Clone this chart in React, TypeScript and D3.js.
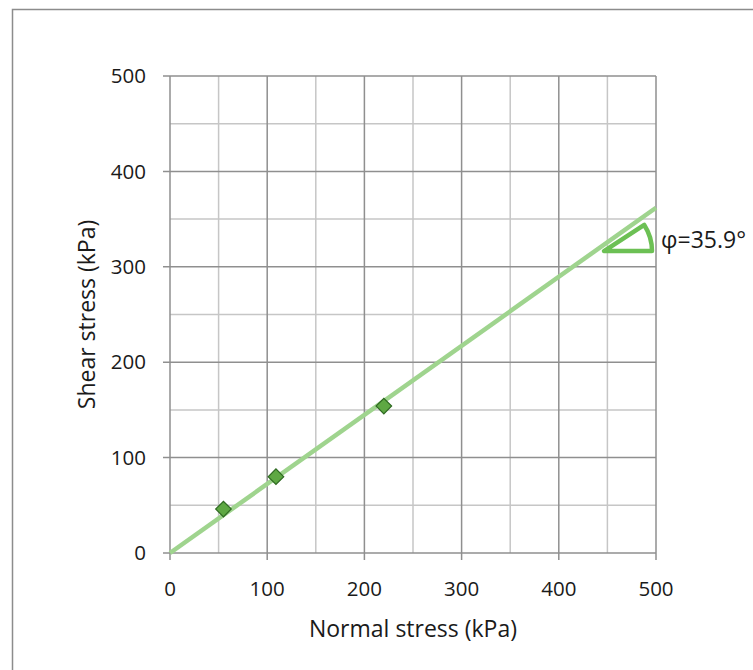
import React from 'react'
import * as d3 from 'd3'

const normalStress = [55, 109, 220]
const shearStress = [46, 80, 154]
const frictionAngle = 35.9
const xTicks = [0, 100, 200, 300, 400, 500]
const yTicks = [0, 100, 200, 300, 400, 500]
const minorTicks = [50, 150, 250, 350, 450]

const width = 753
const height = 670
const left = 170
const right = 656
const top = 76
const bottom = 553

const App = () => {
    const x = d3.scaleLinear().domain([0, 500]).range([left, right])
    const y = d3.scaleLinear().domain([0, 500]).range([bottom, top])
    const slope = Math.tan((frictionAngle * Math.PI) / 180)
    const fit = d3.line<number>()
        .x(d => x(d))
        .y(d => y(d * slope))

    // angle marker near the end of the line
    const vx = x(446.5)
    const vy = y(316.5)
    const r = 48
    const a = (33 * Math.PI) / 180
    const marker = `M${vx},${vy} L${vx + r},${vy} A${r},${r} 0 0 0 ${vx + r * Math.cos(a)},${vy - r * Math.sin(a)} Z`

    const font = "'Open Sans', 'Segoe UI', sans-serif"

    return (
        <div style={{ position: 'absolute', left: 0, top: 0 }}>
            <svg width={width} height={height} style={{ display: 'block', fontFamily: font }}>
                <rect x={12.5} y={9.5} width={800} height={700} fill="#fff" stroke="#8c8c8c" strokeWidth={1.5} />
                {minorTicks.map(t => (
                    <g key={'m' + t}>
                        <line x1={x(t)} x2={x(t)} y1={top} y2={bottom} stroke="#c6c6c6" strokeWidth={1.5} />
                        <line x1={left} x2={right} y1={y(t)} y2={y(t)} stroke="#c6c6c6" strokeWidth={1.5} />
                    </g>
                ))}
                {xTicks.map(t => (
                    <g key={'x' + t}>
                        <line x1={x(t)} x2={x(t)} y1={top} y2={bottom + 7} stroke="#8f8f8f" strokeWidth={1.5} />
                        <text x={x(t)} y={589} dy="0.35em" textAnchor="middle" fontSize={20.5} fill="#1a1a1a">{t}</text>
                    </g>
                ))}
                {yTicks.map(t => (
                    <g key={'y' + t}>
                        <line x1={left - 7} x2={right} y1={y(t)} y2={y(t)} stroke="#8f8f8f" strokeWidth={1.5} />
                        <text x={146} y={y(t)} dy="0.35em" textAnchor="end" fontSize={20.5} fill="#1a1a1a">{t}</text>
                    </g>
                ))}
                <path d={fit([0, 500]) || ''} fill="none" stroke="#9fd48e" strokeWidth={4.5} />
                {normalStress.map((d, i) => (
                    <rect key={i} x={-5.5} y={-5.5} width={11} height={11}
                        transform={`translate(${x(d)},${y(shearStress[i])}) rotate(45)`}
                        fill="#5ea843" stroke="#2f6a22" strokeWidth={1.2} />
                ))}
                <path d={marker} fill="none" stroke="#6cc054" strokeWidth={4.5} strokeLinejoin="round" />
                <text x={661} y={240} dy="0.35em" fontSize={23} fill="#1a1a1a">φ=35.9°</text>
                <text x={x(250)} y={629} dy="0.35em" textAnchor="middle" fontSize={23} fill="#1a1a1a">Normal stress (kPa)</text>
                <text transform={`translate(87,${(top + bottom) / 2}) rotate(-90)`} dy="0.35em" textAnchor="middle" fontSize={23} fill="#1a1a1a">Shear stress (kPa)</text>
            </svg>
        </div>
    )
}

export default App
